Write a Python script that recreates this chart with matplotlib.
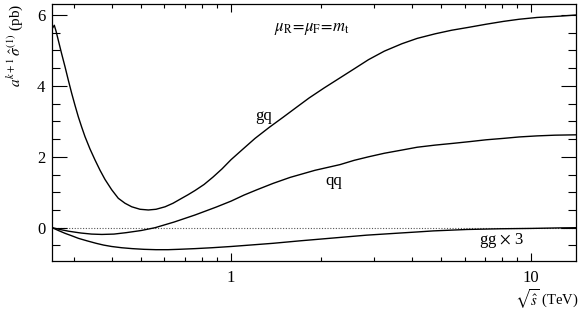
import matplotlib
matplotlib.use("Agg")
import matplotlib.pyplot as plt
from matplotlib.ticker import LogLocator, MultipleLocator, FixedLocator, NullFormatter, FixedFormatter

plt.rcParams['font.family'] = ['Liberation Serif', 'DejaVu Serif']
plt.rcParams['mathtext.fontset'] = 'stix'

# sqrt(s_hat) in TeV and cross sections (pb)
gq_x = [0.2537, 0.2576, 0.2610, 0.2656, 0.2723, 0.2797, 0.2869, 0.2944, 0.3020, 0.3097,
        0.3178, 0.3260, 0.3388, 0.3521, 0.3659, 0.3802, 0.4002, 0.4209, 0.4431, 0.4667,
        0.4973, 0.5300, 0.5623, 0.6026, 0.6406, 0.6849, 0.7188, 0.7586, 0.813, 0.871,
        0.933, 1.000, 1.096, 1.202, 1.340, 1.493, 1.66, 1.82, 2.04, 2.29, 2.57, 2.87,
        3.24, 3.71, 4.17, 4.79, 5.43, 6.17, 7.08, 8.09, 9.12, 10.45, 11.5, 12.6, 14.1]
gq_y = [5.62, 5.71, 5.55, 5.29, 4.92, 4.54, 4.16, 3.79, 3.45, 3.13,
        2.84, 2.57, 2.22, 1.91, 1.62, 1.36, 1.07, 0.83, 0.69, 0.59,
        0.52, 0.50, 0.52, 0.59, 0.69, 0.83, 0.93, 1.05, 1.22, 1.43,
        1.66, 1.92, 2.22, 2.52, 2.83, 3.12, 3.41, 3.66, 3.94, 4.21, 4.48, 4.74,
        4.98, 5.19, 5.34, 5.47, 5.57, 5.65, 5.74, 5.82, 5.88, 5.93, 5.95, 5.97, 6.00]

qq_x = [0.2537, 0.269, 0.288, 0.316, 0.343, 0.371, 0.407, 0.447, 0.501, 0.558, 0.646,
        0.759, 0.891, 1.000, 1.104, 1.219, 1.38, 1.574, 1.905, 2.307, 2.57, 2.871, 3.24,
        3.707, 4.17, 4.786, 5.50, 6.266, 7.08, 8.091, 9.12, 10.47, 12.0, 14.1]
qq_y = [0.0, -0.05, -0.10, -0.15, -0.18, -0.19, -0.18, -0.14, -0.08, 0.0, 0.16,
        0.36, 0.58, 0.75, 0.92, 1.07, 1.25, 1.42, 1.62, 1.78, 1.90, 2.00, 2.10,
        2.19, 2.27, 2.33, 2.38, 2.43, 2.48, 2.52, 2.56, 2.59, 2.61, 2.62]

gg_x = [0.2537, 0.266, 0.280, 0.295, 0.310, 0.331, 0.355, 0.376, 0.400, 0.432, 0.468,
        0.513, 0.562, 0.617, 0.667, 0.759, 0.863, 1.000, 1.114, 1.38, 1.698, 2.193,
        2.831, 3.656, 4.17, 4.721, 5.37, 6.109, 6.92, 7.889, 10.0, 12.59, 14.1]
gg_y = [0.0, -0.08, -0.16, -0.23, -0.30, -0.37, -0.44, -0.49, -0.53, -0.565, -0.59,
        -0.61, -0.62, -0.62, -0.61, -0.59, -0.565, -0.53, -0.50, -0.44, -0.37, -0.29,
        -0.21, -0.15, -0.12, -0.09, -0.07, -0.05, -0.04, -0.03, -0.02, -0.005, 0.0]

x_ticks = [1, 10]
x_ticklabels = ["1", "10"]
y_ticks = [0, 2, 4, 6]
y_ticklabels = ["0", "2", "4", "6"]

fig = plt.figure(figsize=(5.81, 3.11), dpi=100)
ax = fig.add_axes([52.3 / 581, 1 - 260.5 / 311, (576 - 52.3) / 581, (260.5 - 4) / 311])

ax.set_xscale('log')
ax.set_xlim(0.2537, 14.1)
ax.set_ylim(-0.925, 6.31)

ax.axhline(0, color='#555555', lw=0.8, ls=(0, (1, 1.5)), zorder=1)
ax.plot(gq_x, gq_y, color='black', lw=1.0, zorder=2)
ax.plot(qq_x, qq_y, color='black', lw=1.0, zorder=2)
ax.plot(gg_x, gg_y, color='black', lw=1.0, zorder=2)

ax.xaxis.set_major_locator(FixedLocator(x_ticks))
ax.xaxis.set_major_formatter(FixedFormatter(x_ticklabels))
ax.xaxis.set_minor_locator(LogLocator(base=10, subs=range(2, 10)))
ax.xaxis.set_minor_formatter(NullFormatter())
ax.yaxis.set_major_locator(FixedLocator(y_ticks))
ax.yaxis.set_major_formatter(FixedFormatter(y_ticklabels))
ax.yaxis.set_minor_locator(MultipleLocator(0.5))

ax.tick_params(axis='both', which='both', direction='in', top=True, right=True,
               width=0.8, labelsize=12)
ax.tick_params(axis='y', which='major', length=11, pad=5)
ax.tick_params(axis='y', which='minor', length=5.5)
ax.tick_params(axis='x', which='major', length=6, pad=7)
ax.tick_params(axis='x', which='minor', length=3)
for s in ax.spines.values():
    s.set_linewidth(0.9)

ax.text(1.283, 3.15, "gq", fontsize=12, ha='center', va='center')
ax.text(2.19, 1.32, "qq", fontsize=12, ha='center', va='center')
ax.text(7.94, -0.35, r"gg $\times$ 3", fontsize=12, ha='center', va='center')
ax.text(1.855, 5.6, r"$\mu_{\mathrm{R}}\!=\!\mu_{\mathrm{F}}\!=\!m_{\mathrm{t}}$",
        fontsize=12, ha='center', va='center')

fig.text(15 / 581, 1 - 45 / 311, r"$a^{k+1}\,\hat{\sigma}^{(1)}$ (pb)", rotation=90,
         ha='center', va='center', fontsize=11)
fig.text(579 / 581, 1 - 299 / 311, r"$\sqrt{\hat{s}}$ (TeV)", ha='right', va='center',
         fontsize=10.5)

fig.savefig("out.png", dpi=100)
